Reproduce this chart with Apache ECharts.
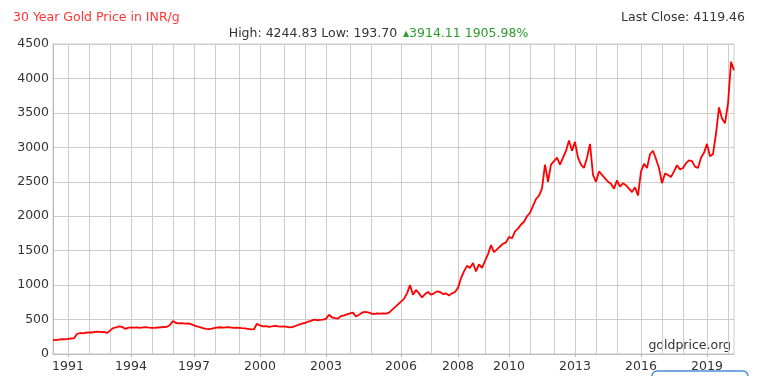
<!DOCTYPE html>
<html>
<head>
<meta charset="utf-8">
<script src="https://cdn.jsdelivr.net/npm/echarts@6/dist/echarts.min.js"></script>
<style>
  html, body { margin: 0; padding: 0; background: #fff; }
  #chart { width: 757px; height: 376px; }
</style>
</head>
<body>
<div id="chart"></div>
<script>
// year start positions along the sample axis (samples are not evenly spread over time)
const yearNames = [1990, 1991, 1992, 1993, 1994, 1995, 1996, 1997, 1998, 1999, 2000,
  2001, 2002, 2003, 2004, 2005, 2006, 2007, 2008, 2009, 2010,
  2011, 2012, 2013, 2014, 2015, 2016, 2017, 2018, 2019, 2020]
const yearStart = [0, 5, 12, 19, 26, 33, 40, 47, 54, 62, 69,
  77, 84, 91, 99, 106, 116, 126, 135, 144, 152,
  159, 167, 174, 181, 188, 196, 203, 210, 218, 225]
const labeledYears = ['1991', '1994', '1997', '2000', '2003', '2006', '2008', '2010', '2013', '2016', '2019']

// gold price, INR per gram
const prices = [
  205, 200, 210, 215, 212, 220, 225, 230, 290, 305,
  300, 310, 315, 312, 320, 325, 318, 322, 305, 340,
  375, 385, 400, 395, 365, 380, 385, 382, 388, 380,
  385, 390, 384, 380, 378, 385, 388, 392, 395, 420,
  480, 450, 445, 448, 440, 445, 435, 415, 400, 390,
  375, 365, 362, 370, 380, 385, 388, 382, 390, 385,
  378, 382, 380, 375, 372, 365, 358, 360, 440, 415,
  400, 405, 395, 400, 410, 402, 398, 400, 395, 385,
  395, 410, 425, 440, 450, 470, 480, 500, 490, 495,
  500, 510, 570, 530, 520, 515, 550, 560, 575, 590,
  600, 545, 570, 600, 610, 605, 590, 580, 590, 585,
  590, 585, 600, 640, 680, 720, 760, 800, 880, 1000,
  860, 930, 880, 820, 870, 900, 860, 880, 910, 900,
  870, 880, 850, 880, 900, 960, 1100, 1200, 1280, 1250,
  1320, 1200, 1300, 1250, 1350, 1450, 1580, 1480, 1520, 1560,
  1600, 1620, 1700, 1680, 1780, 1820, 1880, 1920, 2000, 2050,
  2150, 2250, 2300, 2400, 2750, 2500, 2750, 2800, 2850, 2750,
  2850, 2950, 3100, 2950, 3080, 2850, 2750, 2700, 2850, 3050,
  2600, 2500, 2650, 2600, 2550, 2500, 2470, 2400, 2520, 2430,
  2480, 2450, 2400, 2350, 2420, 2300, 2650, 2760, 2700, 2900,
  2950, 2830, 2700, 2480, 2620, 2600, 2570, 2650, 2740, 2680,
  2700, 2770, 2810, 2800, 2720, 2700, 2850, 2920, 3050, 2870,
  2900, 3200, 3580, 3420, 3350, 3630, 4240, 4119
]

// category names: year at its first sample, "year.k" for the rest
const categories = prices.map((p, i) => {
  let y = 0
  for (let k = 0; k < yearStart.length; k++) {
    if (yearStart[k] <= i) y = k
  }
  const k = i - yearStart[y]
  return k === 0 ? String(yearNames[y]) : yearNames[y] + '.' + k
})

const isLabeled = (idx, val) => labeledYears.indexOf(val) >= 0
const isYearStart = (idx, val) => idx > 0 && val.indexOf('.') < 0

const font = 'DejaVu Sans, Verdana, sans-serif'

const chart = echarts.init(document.getElementById('chart'), null, { renderer: 'canvas' })

const option = {
  animation: false,
  backgroundColor: '#fff',
  title: [
    {
      text: '30 Year Gold Price in INR/g',
      left: 8,
      top: 6,
      textStyle: { color: '#ff3333', fontSize: 12.5, fontWeight: 'normal', fontFamily: font }
    },
    {
      text: 'Last Close: 4119.46',
      right: 7,
      top: 6,
      textStyle: { color: '#333', fontSize: 12.5, fontWeight: 'normal', fontFamily: font }
    },
    {
      text: '{a|High: 4244.83 Low: 193.70} {t|▲}{b|3914.11 1905.98%}',
      left: 'center',
      top: 20,
      textStyle: {
        fontFamily: font,
        fontWeight: 'normal',
        rich: {
          a: { color: '#333', fontSize: 12.5, fontFamily: font, fontWeight: 'normal' },
          t: { color: '#2e9b2e', fontSize: 8, fontFamily: font, fontWeight: 'normal' },
          b: { color: '#2e9b2e', fontSize: 12.5, fontFamily: font, fontWeight: 'normal' }
        }
      }
    }
  ],
  grid: {
    left: 53,
    right: 23,
    top: 44,
    bottom: 22,
    show: true,
    borderColor: '#ccc',
    borderWidth: 1
  },
  xAxis: {
    type: 'category',
    data: categories,
    boundaryGap: false,
    axisLine: { lineStyle: { color: '#bbb' } },
    axisTick: { show: true, interval: isLabeled, length: 3, lineStyle: { color: '#bbb' } },
    axisLabel: {
      interval: isLabeled,
      color: '#333',
      fontSize: 12.5,
      fontFamily: font,
      margin: 6
    },
    splitLine: { show: true, interval: isYearStart, lineStyle: { color: '#cccccc', width: 1 } }
  },
  yAxis: {
    type: 'value',
    min: 0,
    max: 4500,
    interval: 500,
    axisLine: { show: true, lineStyle: { color: '#bbb' } },
    axisTick: { show: false },
    axisLabel: {
      color: '#333',
      fontSize: 12.5,
      fontFamily: font,
      margin: 4,
      formatter: v => String(v)
    },
    splitLine: { lineStyle: { color: '#cccccc', width: 1 } }
  },
  series: [{
    type: 'line',
    data: prices,
    showSymbol: false,
    symbol: 'none',
    lineStyle: { color: '#ff0000', width: 1.8 },
    z: 3
  }],
  graphic: [
    {
      type: 'text',
      right: 26,
      top: 339,
      style: { text: 'goldprice.org', fill: '#333', font: '12.5px ' + font }
    },
    {
      type: 'rect',
      shape: { x: 652, y: 371, width: 96, height: 24, r: 5 },
      style: { fill: '#fff', stroke: '#4a8fd6', lineWidth: 1.5 }
    }
  ]
}

chart.setOption(option)
</script>
</body>
</html>
